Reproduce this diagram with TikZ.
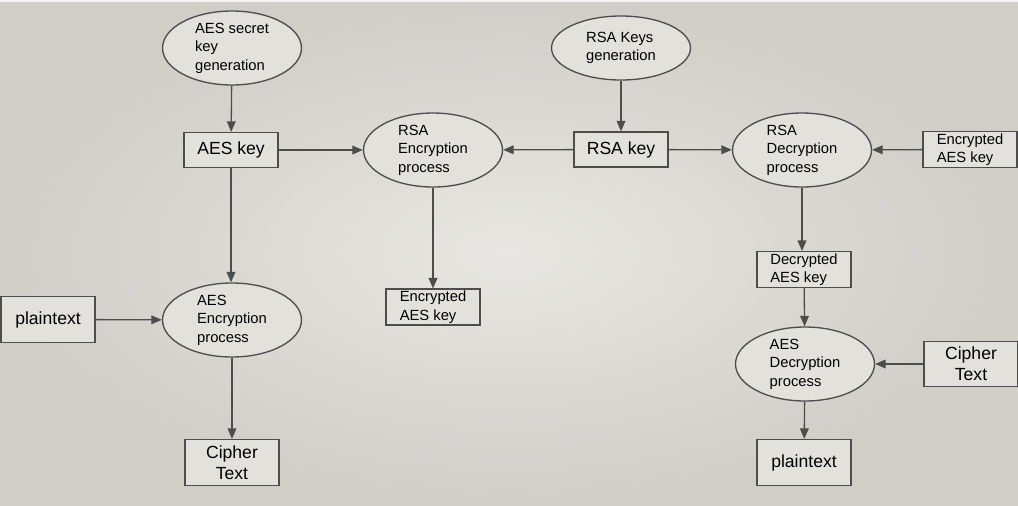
\documentclass[tikz,border=0pt]{standalone}
\usepackage{fontspec}
\setmainfont{Liberation Sans}
\usetikzlibrary{shapes.geometric,arrows.meta}
\definecolor{nodefill}{HTML}{E3E1DC}
\definecolor{edgegray}{HTML}{4D4D4D}
\definecolor{bgin}{HTML}{E9E7E3}
\definecolor{bgout}{HTML}{D1CDC7}
\tikzset{box/.style = {draw=edgegray, fill=nodefill, line width=0.75pt, rectangle, minimum height=0.7cm, minimum width=1.88cm, inner sep=1pt, align=center, font=\fontsize{10}{12}\selectfont},
         sbox/.style = {box, align=left, font=\fontsize{8.4}{10.5}\selectfont},
         proc/.style = {draw=edgegray, fill=nodefill, line width=0.75pt, ellipse, minimum height=1.48cm, minimum width=2.78cm, inner sep=0pt, align=left, font=\fontsize{8.4}{10.5}\selectfont},
         flow/.style = {-{Triangle[length=6pt,width=5pt]}, draw=edgegray, line width=0.75pt}}

\begin{document}
\begin{tikzpicture}[x=0.02cm, y=-0.02cm]
    \useasboundingbox (0,0) rectangle (1018,505);
    \shade[inner color=bgin, outer color=bgout] (0,0) rectangle (1018,505);
    \fill[white!55!bgin] (0,0) rectangle (1018,2);

    % encryption side
    \node[proc](aesgen)at(232,48){AES secret\\key\\generation};
    \node[box](aeskey)at(231,150){AES key};
    \node[proc](aesenc)at(232,320){AES\\Encryption\\process};
    \node[box, minimum height=0.92cm](plainl)at(48,319.5){plaintext};
    \node[box, minimum height=0.92cm](cipherl)at(232,462.5){Cipher\\Text};

    % rsa keys
    \node[proc, minimum height=1.28cm](rsagen)at(621,48){RSA Keys\\generation};
    \node[box](rsakey)at(621,149.5){RSA key};
    \node[proc](rsaenc)at(433,150){RSA\\Encryption\\process};
    \node[sbox](enckeym)at(433,307){Encrypted\\AES key};

    % decryption side
    \node[proc](rsadec)at(802,150){RSA\\Decryption\\process};
    \node[sbox](enckeyr)at(970,149.5){Encrypted\\AES key};
    \node[sbox](deckey)at(804,269.5){Decrypted\\AES key};
    \node[proc](aesdec)at(805,364){AES\\Decryption\\process};
    \node[box, minimum height=0.9cm](cipherr)at(971,364){Cipher\\Text};
    \node[box, minimum height=0.92cm](plainr)at(804,462.5){plaintext};

    \draw[flow](aesgen)--(aeskey);
    \draw[flow](aeskey)--(rsaenc);
    \draw[flow](aeskey)--(aesenc.north -| aeskey);
    \draw[flow](plainl)--(aesenc);
    \draw[flow](aesenc)--(cipherl);
    \draw[flow](rsagen)--(rsakey);
    \draw[flow](rsakey)--(rsaenc);
    \draw[flow](rsaenc)--(enckeym);
    \draw[flow](rsakey)--(rsadec);
    \draw[flow](enckeyr)--(rsadec);
    \draw[flow](rsadec)--(deckey.north -| rsadec);
    \draw[flow](deckey)--(aesdec);
    \draw[flow](cipherr)--(aesdec);
    \draw[flow](aesdec)--(plainr);
\end{tikzpicture}
\end{document}
